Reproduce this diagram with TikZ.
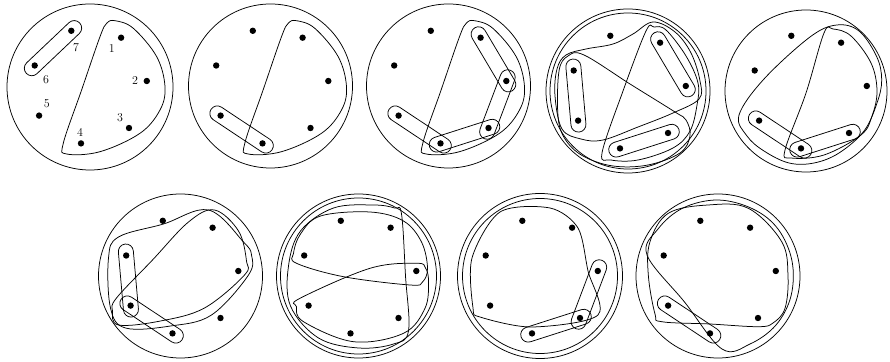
\documentclass[tikz,border=0pt]{standalone}
\usetikzlibrary{calc}
\tikzset{
  dot/.style={circle,fill=black,inner sep=0pt,minimum size=6.4pt},
  hedge/.style={draw=black,line width=0.75pt},
  lab/.style={font=\fontsize{12}{14}\selectfont,inner sep=0pt},
}
\newcommand\capsule[2]{\draw[hedge] let \p1=(#1.center), \p2=(#2.center),
  \n1={atan2(\y2-\y1,\x2-\x1)}, \n2={veclen(\x2-\x1,\y2-\y1)} in
  (#1.center) ++(\n1+180:4) ++(\n1+90:7.5) -- ++(\n1:\n2+8)
  arc[start angle=\n1+90, delta angle=-180, radius=7.5] -- ++(\n1+180:\n2+8)
  arc[start angle=\n1-90, delta angle=-180, radius=7.5] -- cycle;}
\newcommand\pts[1]{%
  \node[dot] (#1-1) at (32.1,-48.3) {};
  \node[dot] (#1-2) at (57.8,-5.0) {};
  \node[dot] (#1-3) at (40.0,42.0) {};
  \node[dot] (#1-4) at (-8.0,57.4) {};
  \node[dot] (#1-5) at (-49.9,29.6) {};
  \node[dot] (#1-6) at (-54.3,-20.5) {};
  \node[dot] (#1-7) at (-17.7,-55.2) {};}
\newcommand\tshape{\draw[hedge] plot[smooth cycle,tension=0.6] coordinates {(17.7,-62.7) (26,-65.3) (44.3,-57.7) (67.7,-29.3) (76,0.7) (71,24) (51,47.3) (11,65.7) (-22.3,68) (-25.7,57.3) (-7.4,4) (11,-49.3)};}
\begin{document}
\begin{tikzpicture}[x=1pt,y=1pt]
\useasboundingbox (0,0) rectangle (890,361);
% Panel 1
\begin{scope}[shift={(89,275)},yscale=-1]
  \draw[hedge] (1,1) circle[radius=83];
  \pts{a}
  \node[lab] (a-l1) at (22.7,-37.7) {1};
  \node[lab] (a-l2) at (46,-5.3) {2};
  \node[lab] (a-l3) at (31,31.3) {3};
  \node[lab] (a-l4) at (-9,46.7) {4};
  \node[lab] (a-l5) at (-42.3,18) {5};
  \node[lab] (a-l6) at (-43,-6.7) {6};
  \node[lab] (a-l7) at (-13,-38.3) {7};
  \tshape
\end{scope}
% Panel 2
\begin{scope}[shift={(270.5,275)},yscale=-1]
  \draw[hedge] (0,0) circle[radius=82];
  \pts{b}
  \tshape
\end{scope}
% Panel 3
\begin{scope}[shift={(448.5,275)},yscale=-1]
  \draw[hedge] (0,0) circle[radius=82];
  \pts{c}
  \tshape
\end{scope}
% Panel 4
\begin{scope}[shift={(628,270)},yscale=-1]
  \draw[hedge] (0,0) circle[radius=82];
  \draw[hedge] (0,0) circle[radius=78];
  \pts{d}
  \draw[hedge] plot[smooth cycle,tension=0.6] coordinates {(18,-60) (26,-64) (38,-61) (58,-35) (70,-8) (69,14) (62,40) (45,57) (10,69) (-17,69) (-26,62) (-5,0)};
  \draw[hedge] plot[smooth cycle,tension=0.6] coordinates {(-73,5) (-71,-22) (-62,-36) (-42,-42) (-15,-47) (5,-57) (25,-69) (47,-59) (63,-38) (72,-10) (71,8) (45,22) (10,36) (-25,49) (-47,48) (-66,38)};
  \draw[hedge] plot[smooth cycle,tension=0.6] coordinates {(-69,-20) (-60,-35) (-44,-36) (2,-7) (47,21) (58,29) (62,45) (52,62) (20,74) (-15,75) (-45,65) (-63,48) (-70,25)};
\end{scope}
% Panel 5
\begin{scope}[shift={(809,270)},yscale=-1]
  \draw[hedge] (-3,0) circle[radius=81];
  \pts{e}
  \draw[hedge] plot[smooth cycle,tension=0.6] coordinates {(-70,24) (-45,-12) (1,-54) (27.7,-66) (50,-60) (67.7,-34.3) (72.7,-11) (68,12) (55,40) (30,62) (5,72) (-20,72) (-45,60) (-62,45)};
  \draw[hedge] plot[smooth cycle,tension=0.6] coordinates {(15,-58) (24,-62) (42,-55) (62,-28) (68,0) (63,25) (52,44) (15,64) (-18,67) (-24,59) (-3,2)};
\end{scope}
% Panel 6
\begin{scope}[shift={(180.5,85)},yscale=-1]
  \draw[hedge] (0,0) circle[radius=82];
  \pts{f}
  \draw[hedge] plot[smooth cycle,tension=0.6] coordinates {(-62,-39) (-17,-52) (28,-66) (63,-34) (71,-21) (68,-1) (31,39) (-10,50) (-55,52) (-70,32) (-72,-18)};
  \draw[hedge] plot[smooth cycle,tension=0.6] coordinates {(-64,22) (-28,-16) (8,-54) (34,-66) (58,-45) (66,-15) (64,-1) (24,32) (-20,45) (-62,49) (-68,35)};
\end{scope}
% Panel 7
\begin{scope}[shift={(358.5,85)},yscale=-1]
  \draw[hedge] (0,0) circle[radius=82];
  \draw[hedge] (0,0) circle[radius=78];
  \pts{g}
  \draw[hedge] plot[smooth cycle,tension=0.6] coordinates {(-65,-22.7) (-58,-42) (-38,-60) (11.5,-64) (45,-55) (63,-34) (69,-8) (64,6) (51.5,9) (-15,0.7) (-62,-12.7)};
  \draw[hedge] plot[smooth cycle,tension=0.6] coordinates {(58,-12.7) (67,-8) (70,5.7) (66.5,32.3) (45,57.3) (-5,65.7) (-55,45.7) (-62,30.7) (-58.5,22.3) (11.5,-7.7)};
  \draw[hedge] plot[smooth cycle,tension=0.6] coordinates {(43,-62) (47,0) (50,55) (35,68) (0,72) (-40,62) (-68,30) (-70,-10) (-58,-45) (-25,-68) (15,-71) (36,-68)};
\end{scope}
% Panel 8
\begin{scope}[shift={(540,85)},yscale=-1]
  \draw[hedge] (0,0) circle[radius=82.5];
  \draw[hedge] (0,0) circle[radius=77.5];
  \pts{h}
  \draw[hedge] plot[smooth cycle,tension=0.5] coordinates {(-68,-18) (-67,32) (-60,41) (-8,51) (58,39) (48,-5) (38,-48) (10,-68) (-40,-64)};
\end{scope}
% Panel 9
\begin{scope}[shift={(718,85)},yscale=-1]
  \draw[hedge] (0,0) circle[radius=82];
  \pts{k}
  \draw[hedge] plot[smooth cycle,tension=0.6] coordinates {(-71,-21) (-60,-47) (-35,-68) (0,-76) (35,-67) (60,-47) (74,-15) (73,20) (58,49) (32,68) (4,73) (-33.5,26)};
  \draw[hedge] plot[smooth cycle,tension=0.6] coordinates {(-69.7,-1) (-68,-34.3) (-49.7,-62.7) (-10,-71) (30.3,-67.7) (63.7,-34.3) (70,0) (67,32.3) (55,47) (40.3,50.7) (-8,48) (-56.3,45.7) (-63,38)};
\end{scope}
% capsules
\capsule{a-6}{a-7}
\capsule{b-4}{b-5}
\capsule{c-1}{c-2}
\capsule{c-2}{c-3}
\capsule{c-3}{c-4}
\capsule{c-4}{c-5}
\capsule{d-1}{d-2}
\capsule{d-3}{d-4}
\capsule{d-5}{d-6}
\capsule{e-4}{e-5}
\capsule{e-3}{e-4}
\capsule{f-5}{f-6}
\capsule{f-4}{f-5}
\capsule{h-2}{h-3}
\capsule{h-3}{h-4}
\capsule{k-4}{k-5}
\end{tikzpicture}
\end{document}
